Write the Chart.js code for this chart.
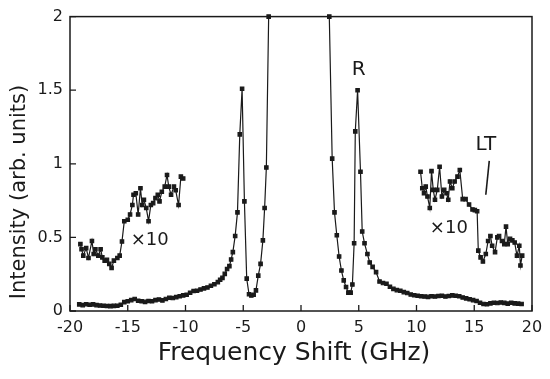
<!DOCTYPE html>
<html>
<head>
<meta charset="utf-8">
<script src="https://cdn.jsdelivr.net/npm/chart.js@4/dist/chart.umd.min.js"></script>
<style>
  html, body { margin: 0; padding: 0; background: #fff; }
  #wrap { width: 550px; height: 379px; }
</style>
</head>
<body>
<div id="wrap"><canvas id="spectrum"></canvas></div>
<script>
// main spectrum (GHz, arb. units); central peak is off scale, hence the gap
const mainFreq = [
  -19.2, -18.9, -18.6, -18.3, -18.0, -17.7, -17.4, -17.1, -16.8, -16.5,
  -16.2, -15.9, -15.6, -15.3, -15.0, -14.7, -14.4, -14.1, -13.8, -13.5,
  -13.2, -12.9, -12.6, -12.3, -12.0, -11.7, -11.4, -11.1, -10.8, -10.5,
  -10.2, -9.9, -9.6, -9.3, -9.0, -8.7, -8.4, -8.1, -7.8, -7.5,
  -7.2, -7.0, -6.8, -6.6, -6.4, -6.2, -6.05, -5.9, -5.7, -5.5,
  -5.3, -5.1, -4.9, -4.7, -4.5, -4.3, -4.1, -3.9, -3.7, -3.5,
  -3.3, -3.15, -3.0, -2.8,
  0,
  2.45, 2.7, 2.9, 3.1, 3.3, 3.5, 3.7, 3.9, 4.1, 4.3,
  4.45, 4.6, 4.7, 4.9, 5.15, 5.3, 5.5, 5.75, 5.95, 6.2,
  6.5, 6.8, 7.1, 7.4, 7.7, 8.0, 8.3, 8.6, 8.9, 9.2,
  9.5, 9.8, 10.1, 10.4, 10.7, 11.0, 11.3, 11.6, 11.9, 12.2,
  12.5, 12.8, 13.1, 13.4, 13.7, 14.0, 14.3, 14.6, 14.9, 15.2,
  15.5, 15.8, 16.1, 16.4, 16.7, 17.0, 17.3, 17.6, 17.9, 18.2,
  18.5, 18.8, 19.1
];
const mainIntensity = [
  0.045, 0.040, 0.046, 0.042, 0.045, 0.040, 0.037, 0.036, 0.034, 0.033,
  0.035, 0.036, 0.042, 0.060, 0.066, 0.074, 0.082, 0.070, 0.066, 0.062,
  0.068, 0.066, 0.074, 0.078, 0.072, 0.082, 0.090, 0.088, 0.094, 0.100,
  0.106, 0.110, 0.124, 0.136, 0.138, 0.146, 0.154, 0.160, 0.172, 0.182,
  0.196, 0.212, 0.225, 0.252, 0.285, 0.305, 0.350, 0.400, 0.510, 0.670,
  1.200, 1.510, 0.745, 0.220, 0.114, 0.105, 0.110, 0.140, 0.240, 0.320,
  0.480, 0.700, 0.975, 2.0,
  null,
  2.0, 1.035, 0.670, 0.515, 0.370, 0.275, 0.208, 0.163, 0.125, 0.125,
  0.180, 0.460, 1.220, 1.500, 0.946, 0.540, 0.460, 0.387, 0.330, 0.300,
  0.264, 0.200, 0.190, 0.185, 0.165, 0.150, 0.142, 0.138, 0.128, 0.122,
  0.112, 0.107, 0.104, 0.100, 0.098, 0.096, 0.100, 0.098, 0.102, 0.104,
  0.098, 0.102, 0.106, 0.104, 0.100, 0.092, 0.086, 0.080, 0.074, 0.068,
  0.056, 0.048, 0.046, 0.052, 0.056, 0.054, 0.058, 0.055, 0.050, 0.056,
  0.052, 0.050, 0.048
];

// wings magnified x10
const leftWingFreq = [
  -19.1, -19.0, -18.85, -18.6, -18.4, -18.1, -17.95, -17.8, -17.55, -17.35,
  -17.2, -17.0, -16.8, -16.6, -16.4, -16.2, -15.9, -15.7, -15.5, -15.3,
  -15.0, -14.8, -14.6, -14.5, -14.3, -14.1, -13.9, -13.75, -13.6, -13.4,
  -13.2, -13.0, -12.8, -12.6, -12.4, -12.25, -12.05, -11.8, -11.6, -11.45,
  -11.25, -11.0, -10.85, -10.6, -10.4, -10.2
];
const leftWingIntensity = [
  0.454, 0.420, 0.376, 0.427, 0.360, 0.476, 0.387, 0.420, 0.376, 0.420,
  0.364, 0.342, 0.347, 0.320, 0.293, 0.342, 0.360, 0.376, 0.472, 0.610,
  0.620, 0.656, 0.720, 0.790, 0.800, 0.656, 0.834, 0.720, 0.756, 0.700,
  0.610, 0.720, 0.733, 0.767, 0.790, 0.745, 0.810, 0.845, 0.924, 0.845,
  0.790, 0.845, 0.820, 0.720, 0.913, 0.900
];
const rightWingFreq = [
  10.35, 10.5, 10.65, 10.8, 10.95, 11.15, 11.3, 11.45, 11.6, 11.8,
  12.0, 12.2, 12.4, 12.6, 12.75, 12.9, 13.1, 13.3, 13.55, 13.75,
  14.0, 14.25, 14.55, 14.85, 15.05, 15.25, 15.35, 15.55, 15.75, 16.0,
  16.2, 16.4, 16.55, 16.8, 17.0, 17.15, 17.4, 17.6, 17.75, 17.9,
  18.1, 18.3, 18.5, 18.7, 18.9, 19.0, 19.15
];
const rightWingIntensity = [
  0.946, 0.834, 0.800, 0.845, 0.778, 0.700, 0.950, 0.823, 0.756, 0.823,
  0.980, 0.778, 0.823, 0.800, 0.756, 0.880, 0.834, 0.880, 0.913, 0.958,
  0.760, 0.760, 0.723, 0.690, 0.685, 0.678, 0.410, 0.364, 0.336, 0.387,
  0.476, 0.510, 0.443, 0.400, 0.500, 0.510, 0.476, 0.454, 0.573, 0.454,
  0.490, 0.480, 0.465, 0.376, 0.443, 0.309, 0.376
];

const xTicks = [-20, -15, -10, -5, 0, 5, 10, 15, 20];
const yTicks = [0, 0.5, 1, 1.5, 2];
const yTickLabels = ['0', '0.5', '1', '1.5', '2'];

const FONT = '"DejaVu Sans", sans-serif';
const INK = '#1a1a1a';

function pairs(xs, ys) {
  return xs.map((x, i) => ({ x: x, y: ys[i] }));
}

function seriesStyle(data) {
  return {
    data: data,
    borderColor: INK,
    backgroundColor: INK,
    borderWidth: 1.2,
    pointStyle: 'rect',
    pointRadius: 2.4,
    pointHoverRadius: 2.4,
    spanGaps: false,
    tension: 0,
    clip: false
  };
}

// frame, inward ticks, axis titles and the text labels inside the plot
const framePlugin = {
  id: 'frame',
  afterDatasetsDraw(chart) {
    const { ctx, chartArea: a, scales: { x, y } } = chart;
    ctx.save();
    ctx.strokeStyle = INK;
    ctx.lineWidth = 1.5;
    ctx.strokeRect(a.left, a.top, a.right - a.left, a.bottom - a.top);
    ctx.lineWidth = 1.3;
    ctx.beginPath();
    xTicks.forEach(v => {
      const px = x.getPixelForValue(v);
      ctx.moveTo(px, a.bottom);
      ctx.lineTo(px, a.bottom - 6);
    });
    yTicks.forEach(v => {
      const py = y.getPixelForValue(v);
      ctx.moveTo(a.left, py);
      ctx.lineTo(a.left + 6, py);
    });
    ctx.stroke();

    ctx.fillStyle = INK;
    ctx.textAlign = 'center';
    ctx.textBaseline = 'middle';
    ctx.font = '25px ' + FONT;
    ctx.fillText('Frequency Shift (GHz)', (a.left + a.right) / 2 - 7, 353);
    ctx.save();
    ctx.translate(20, 192);
    ctx.rotate(-Math.PI / 2);
    ctx.font = '21px ' + FONT;
    ctx.fillText('Intensity (arb. units)', 0, 0);
    ctx.restore();

    ctx.font = '20px ' + FONT;
    ctx.fillText('R', x.getPixelForValue(5.0), y.getPixelForValue(1.64));
    ctx.fillText('LT', x.getPixelForValue(16.0), y.getPixelForValue(1.13));
    ctx.font = '18px ' + FONT;
    ctx.fillText('\u00d710', x.getPixelForValue(-13.1), y.getPixelForValue(0.48));
    ctx.fillText('\u00d710', x.getPixelForValue(12.8), y.getPixelForValue(0.56));

    ctx.lineWidth = 1.6;
    ctx.beginPath();
    ctx.moveTo(x.getPixelForValue(16.3), y.getPixelForValue(1.02));
    ctx.lineTo(x.getPixelForValue(16.0), y.getPixelForValue(0.79));
    ctx.stroke();
    ctx.restore();
  }
};

new Chart(document.getElementById('spectrum'), {
  type: 'line',
  data: {
    datasets: [
      seriesStyle(pairs(mainFreq, mainIntensity)),
      seriesStyle(pairs(leftWingFreq, leftWingIntensity)),
      seriesStyle(pairs(rightWingFreq, rightWingIntensity))
    ]
  },
  options: {
    responsive: true,
    maintainAspectRatio: false,
    animation: false,
    events: [],
    layout: { padding: { left: 0, right: 18, top: 13, bottom: 0 } },
    plugins: {
      legend: { display: false },
      tooltip: { enabled: false }
    },
    scales: {
      x: {
        type: 'linear',
        min: -20,
        max: 20,
        afterBuildTicks: s => { s.ticks = xTicks.map(v => ({ value: v })); },
        afterFit: s => { s.height = 68; },
        grid: { display: false, drawTicks: false },
        border: { display: false },
        ticks: { color: INK, font: { family: FONT, size: 16 }, padding: 7 }
      },
      y: {
        min: 0,
        max: 2,
        afterBuildTicks: s => { s.ticks = yTicks.map(v => ({ value: v })); },
        afterFit: s => { s.width = 70; },
        grid: { display: false, drawTicks: false },
        border: { display: false },
        ticks: {
          color: INK,
          font: { family: FONT, size: 16 },
          padding: 7,
          callback: (v, i) => yTickLabels[i]
        }
      }
    }
  },
  plugins: [framePlugin]
});
</script>
</body>
</html>
